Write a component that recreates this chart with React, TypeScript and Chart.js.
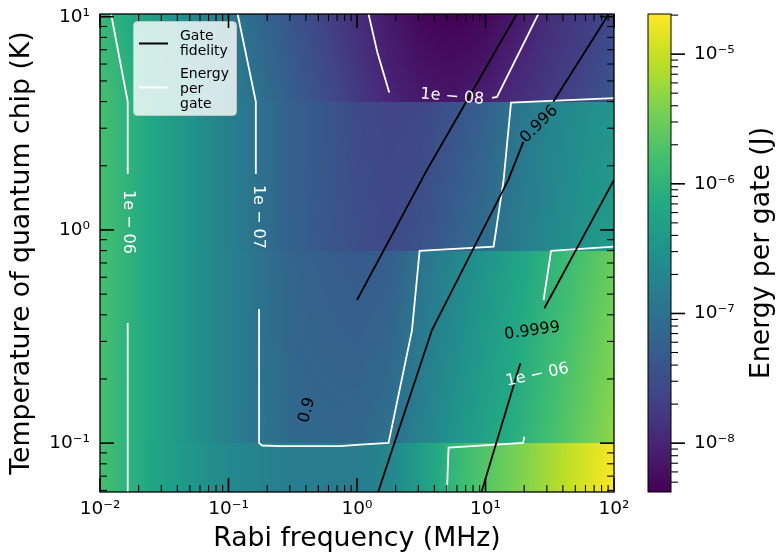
import React, { useEffect, useRef } from 'react';
import { Chart, registerables } from 'chart.js';

Chart.register(...registerables);

const FONT = "'DejaVu Sans', 'Liberation Sans', sans-serif";

// ---- axis ranges and ticks ----
const rabiRange = [0.01, 100];
const tempRange = [0.059, 10.3];
const energyRange = [4.2e-9, 2.04e-5];
const rabiTicks = [0.01, 0.1, 1, 10, 100];
const tempTicks = [0.1, 1, 10];
const energyTicks = [1e-8, 1e-7, 1e-6, 1e-5];

// ---- energy-per-gate map (J), read at band edges of each cooling stage ----
const rabiGrid = [0.01, 0.0316, 0.1, 0.316, 1, 1.78, 3.16, 5.62, 10, 17.8, 31.6, 56.2, 100];
const stageEdgesK = [0.1, 0.8, 4];
const energyStage1Low = [1.62e-6, 5.0e-7, 2.2e-7, 1.51e-7, 1.41e-7, 2.0e-7, 4.5e-7, 1.12e-6, 2.1e-6, 3.7e-6, 6.6e-6, 1.18e-5, 2.04e-5];
const energyStage1High = [1.62e-6, 5.0e-7, 2.2e-7, 1.51e-7, 1.41e-7, 2.0e-7, 4.5e-7, 1.12e-6, 2.0e-6, 3.5e-6, 6.3e-6, 1.12e-5, 1.9e-5];
const energyStage2Low = [1.62e-6, 5.1e-7, 1.66e-7, 7.1e-8, 7.1e-8, 9.5e-8, 1.78e-7, 3.2e-7, 5.6e-7, 8.9e-7, 1.58e-6, 2.8e-6, 5.0e-6];
const energyStage2High = [1.62e-6, 5.1e-7, 1.66e-7, 6.3e-8, 4.5e-8, 5.0e-8, 1.05e-7, 1.82e-7, 3.2e-7, 5.6e-7, 9.8e-7, 1.66e-6, 2.8e-6];
const energyStage3Low = [1.62e-6, 5.1e-7, 1.62e-7, 5.6e-8, 3.2e-8, 2.8e-8, 3.5e-8, 5.6e-8, 8.9e-8, 1.41e-7, 2.2e-7, 3.2e-7, 4.5e-7];
const energyStage3High = [1.62e-6, 5.1e-7, 1.62e-7, 5.6e-8, 2.8e-8, 2.4e-8, 2.5e-8, 3.5e-8, 5.6e-8, 1.12e-7, 1.78e-7, 2.5e-7, 3.5e-7];
const energyStage4Low = [1.62e-6, 5.1e-7, 1.62e-7, 5.2e-8, 1.78e-8, 1.0e-8, 7.6e-9, 7.1e-9, 8.7e-9, 1.26e-8, 1.78e-8, 2.5e-8, 4.0e-8];
const energyStage4High = [1.2e-6, 3.9e-7, 1.23e-7, 3.8e-8, 1.26e-8, 7.4e-9, 5.0e-9, 4.2e-9, 5.0e-9, 7.4e-9, 1.26e-8, 1.78e-8, 2.7e-8];

// ---- contour paths: [Rabi MHz, T K] ----
type Pt = [number, number];
const energy1e6Paths: Pt[][] = [
  [[0.0122, 10.3], [0.01643, 4.0], [0.01643, 1.83]],
  [[0.01643, 0.366], [0.01643, 0.0589]],
  [[5.01, 0.0589], [5.16, 0.0954], [19.6, 0.1003], [20.05, 0.1071]],
  [[28.3, 0.469], [32.4, 0.797], [100, 0.835]],
];
const energy1e7Paths: Pt[][] = [
  [[0.1178, 10.3], [0.1632, 4.0], [0.1632, 1.83]],
  [[0.173, 0.4256], [0.173, 0.1], [0.183, 0.0975], [0.252, 0.0968], [0.74, 0.0968], [1.06, 0.0985], [1.76, 0.1003],
   [2.68, 0.339], [3.07, 0.797], [11.56, 0.835], [13.84, 1.717], [15.8, 3.96], [100, 4.153]],
];
const energy1e8Paths: Pt[][] = [
  [[1.229, 10.3], [1.445, 6.75], [1.782, 4.41]],
  [[11.24, 4.166], [12.29, 4.21], [25.77, 10.3]],
];
const fidelityPaths: Pt[][] = [
  [[1.0, 0.469], [3.503, 1.912], [17.5, 10.3]],
  [[1.46, 0.0589], [3.83, 0.3393], [15.05, 1.717], [19.7, 2.589]],
  [[33.7, 3.99], [91, 10.3]],
  [[9.3, 0.0589], [18.66, 0.2367]],
  [[28.7, 0.429], [100, 1.717]],
];

// ---- inline contour labels ----
const labelText = ['1e − 06', '1e − 07', '1e − 08', '1e − 06', '0.996', '0.9999', '0.9'];
const labelRabi = [0.01667, 0.1715, 5.51, 25.3, 26.2, 23.1, 0.409];
const labelTemp = [1.09, 1.151, 4.21, 0.2087, 3.128, 0.3357, 0.1429];
const labelAngle = [90, 90, 5, -12, -45, -8, -75];
const labelIsEnergy = [true, true, true, true, false, false, false];

const VIRIDIS = ['#440154', '#482475', '#414487', '#355f8d', '#2a788e', '#21918c', '#22a884', '#44bf70', '#7ad151', '#bddf26', '#fde725']
  .map((h) => [parseInt(h.slice(1, 3), 16), parseInt(h.slice(3, 5), 16), parseInt(h.slice(5, 7), 16)]);

function viridis(t: number): number[] {
  const c = Math.min(1, Math.max(0, t)) * (VIRIDIS.length - 1);
  const i = Math.min(VIRIDIS.length - 2, Math.floor(c));
  const f = c - i;
  return [0, 1, 2].map((k) => Math.round(VIRIDIS[i][k] + (VIRIDIS[i + 1][k] - VIRIDIS[i][k]) * f));
}
const lEmin = Math.log10(energyRange[0]);
const lEmax = Math.log10(energyRange[1]);
const energyColor = (logE: number) => viridis((logE - lEmin) / (lEmax - lEmin));

const SUP: Record<string, string> = { '-': '⁻', '0': '⁰', '1': '¹', '2': '²', '3': '³', '4': '⁴', '5': '⁵', '6': '⁶', '7': '⁷', '8': '⁸', '9': '⁹' };
const powLabel = (v: number) => '10' + String(Math.round(Math.log10(v))).split('').map((c) => SUP[c]).join('');

function minorValues(min: number, max: number) {
  const out: number[] = [];
  for (let d = Math.floor(Math.log10(min)); d <= Math.ceil(Math.log10(max)); d++) {
    for (let k = 2; k <= 9; k++) {
      const v = k * Math.pow(10, d);
      if (v >= min && v <= max) out.push(v);
    }
  }
  return out;
}

const stagesLow = [energyStage1Low, energyStage2Low, energyStage3Low, energyStage4Low].map((r) => r.map(Math.log10));
const stagesHigh = [energyStage1High, energyStage2High, energyStage3High, energyStage4High].map((r) => r.map(Math.log10));

const heatmapPlugin = {
  id: 'heatmap',
  beforeDatasetsDraw(chart: any) {
    const { ctx, chartArea: a, scales } = chart;
    const xs = scales.x, ys = scales.y;
    const w = Math.round(a.right - a.left), h = Math.round(a.bottom - a.top);
    const off = document.createElement('canvas');
    off.width = w; off.height = h;
    const octx = off.getContext('2d')!;
    const img = octx.createImageData(w, h);
    const lg = rabiGrid.map(Math.log10);
    const colK: number[] = [], colU: number[] = [];
    for (let i = 0; i < w; i++) {
      const lx = Math.log10(xs.getValueForPixel(a.left + i + 0.5));
      let k = 0;
      while (k < lg.length - 2 && lx > lg[k + 1]) k++;
      colK.push(k);
      colU.push(Math.min(1, Math.max(0, (lx - lg[k]) / (lg[k + 1] - lg[k]))));
    }
    const edges = [tempRange[0], ...stageEdgesK, tempRange[1]].map(Math.log10);
    for (let j = 0; j < h; j++) {
      const lt = Math.log10(ys.getValueForPixel(a.top + j + 0.5));
      let b = 0;
      while (b < stageEdgesK.length && lt >= edges[b + 1]) b++;
      const f = Math.min(1, Math.max(0, (lt - edges[b]) / (edges[b + 1] - edges[b])));
      const lo = stagesLow[b], hi = stagesHigh[b];
      for (let i = 0; i < w; i++) {
        const k = colK[i], u = colU[i];
        const eLo = lo[k] + (lo[k + 1] - lo[k]) * u;
        const eHi = hi[k] + (hi[k + 1] - hi[k]) * u;
        const c = energyColor(eLo + (eHi - eLo) * f);
        const p = (j * w + i) * 4;
        img.data[p] = c[0]; img.data[p + 1] = c[1]; img.data[p + 2] = c[2]; img.data[p + 3] = 255;
      }
    }
    octx.putImageData(img, 0, 0);
    ctx.drawImage(off, a.left, a.top);
  },
};

const decorPlugin = {
  id: 'decor',
  afterDatasetsDraw(chart: any) {
    const { ctx, chartArea: a, scales } = chart;
    const xs = scales.x, ys = scales.y;
    ctx.save();
    ctx.beginPath();
    ctx.rect(a.left, a.top, a.right - a.left, a.bottom - a.top);
    ctx.clip();
    ctx.font = `16px ${FONT}`;
    ctx.textAlign = 'center';
    ctx.textBaseline = 'middle';
    labelText.forEach((t, i) => {
      ctx.save();
      ctx.translate(xs.getPixelForValue(labelRabi[i]), ys.getPixelForValue(labelTemp[i]));
      ctx.rotate((labelAngle[i] * Math.PI) / 180);
      ctx.fillStyle = labelIsEnergy[i] ? '#ffffff' : '#000000';
      ctx.fillText(t, 0, 0);
      ctx.restore();
    });
    ctx.restore();

    // legend
    const lx = a.left + 33.5, ly = a.top + 7.5, lw = 103, lh = 94;
    ctx.save();
    ctx.beginPath();
    (ctx as any).roundRect(lx, ly, lw, lh, 4);
    ctx.fillStyle = 'rgba(255,255,255,0.8)';
    ctx.fill();
    ctx.strokeStyle = 'rgba(204,204,204,0.8)';
    ctx.lineWidth = 1;
    ctx.stroke();
    ctx.lineWidth = 2;
    ctx.strokeStyle = '#000';
    ctx.beginPath(); ctx.moveTo(lx + 5.5, ly + 22); ctx.lineTo(lx + 34.5, ly + 22); ctx.stroke();
    ctx.strokeStyle = '#fff';
    ctx.beginPath(); ctx.moveTo(lx + 5.5, ly + 66); ctx.lineTo(lx + 34.5, ly + 66); ctx.stroke();
    ctx.fillStyle = '#000';
    ctx.font = `14px ${FONT}`;
    ctx.textAlign = 'left';
    ctx.textBaseline = 'alphabetic';
    const tx = lx + 46.5;
    [['Gate', 18], ['fidelity', 33.5], ['Energy', 56], ['per', 71], ['gate', 86]].forEach(([s, dy]) => {
      ctx.fillText(s as string, tx, ly + (dy as number));
    });
    ctx.restore();
  },
  afterDraw(chart: any) {
    const { ctx, chartArea: a, scales } = chart;
    const xs = scales.x, ys = scales.y, cb = scales.cb;
    const MAJ = 14, MIN = 7;
    ctx.save();
    ctx.strokeStyle = '#000';
    const seg = (x1: number, y1: number, x2: number, y2: number, w: number) => {
      ctx.lineWidth = w;
      ctx.beginPath(); ctx.moveTo(x1, y1); ctx.lineTo(x2, y2); ctx.stroke();
    };
    const xTick = (v: number, L: number, w: number) => {
      const p = xs.getPixelForValue(v);
      seg(p, a.bottom, p, a.bottom - L, w); seg(p, a.top, p, a.top + L, w);
    };
    const yTick = (v: number, L: number, w: number) => {
      const p = ys.getPixelForValue(v);
      seg(a.left, p, a.left + L, p, w); seg(a.right, p, a.right - L, p, w);
    };
    rabiTicks.forEach((v) => xTick(v, MAJ, 1.6));
    minorValues(rabiRange[0], rabiRange[1]).forEach((v) => xTick(v, MIN, 1.1));
    tempTicks.forEach((v) => yTick(v, MAJ, 1.6));
    minorValues(tempRange[0], tempRange[1]).forEach((v) => yTick(v, MIN, 1.1));
    ctx.lineWidth = 1.3;
    ctx.strokeRect(a.left, a.top, a.right - a.left, a.bottom - a.top);

    // colour bar
    const c0 = cb.left + 34, c1 = cb.left + 57;
    for (let py = Math.floor(cb.top); py < Math.ceil(cb.bottom); py++) {
      const c = energyColor(Math.log10(cb.getValueForPixel(py + 0.5)));
      ctx.fillStyle = `rgb(${c[0]},${c[1]},${c[2]})`;
      ctx.fillRect(c0, py, c1 - c0, 1);
    }
    ctx.lineWidth = 1;
    ctx.strokeRect(c0, cb.top, c1 - c0, cb.bottom - cb.top);
    energyTicks.forEach((v) => { const p = cb.getPixelForValue(v); seg(c1, p, c1 + MAJ, p, 1.6); });
    minorValues(energyRange[0], energyRange[1]).forEach((v) => { const p = cb.getPixelForValue(v); seg(c1, p, c1 + MIN, p, 1.1); });
    ctx.translate(cb.right - 13.5, (cb.top + cb.bottom) / 2);
    ctx.rotate(-Math.PI / 2);
    ctx.fillStyle = '#000';
    ctx.font = `26.7px ${FONT}`;
    ctx.textAlign = 'center';
    ctx.textBaseline = 'middle';
    ctx.fillText('Energy per gate (J)', 0, 0);
    ctx.restore();
  },
};

function pathDatasets(paths: Pt[][], color: string) {
  return paths.map((p) => ({
    data: p.map(([x, y]) => ({ x, y })),
    showLine: true,
    borderColor: color,
    backgroundColor: color,
    borderWidth: 1.8,
    pointRadius: 0,
    fill: false,
    tension: 0,
  }));
}

export default function App() {
  const ref = useRef<HTMLCanvasElement>(null);
  useEffect(() => {
    document.body.style.margin = '0';
    Chart.defaults.font.family = FONT;
    const tickFont = { family: FONT, size: 18.5 };
    const titleFont = { family: FONT, size: 26.7 };
    const chart = new Chart(ref.current!, {
      type: 'scatter',
      data: {
        datasets: [
          ...pathDatasets(fidelityPaths, '#000000'),
          ...pathDatasets(energy1e6Paths, '#ffffff'),
          ...pathDatasets(energy1e7Paths, '#ffffff'),
          ...pathDatasets(energy1e8Paths, '#ffffff'),
        ] as any,
      },
      options: {
        responsive: false,
        animation: false,
        layout: { autoPadding: false, padding: { left: 0, right: 0, top: 14, bottom: 0 } },
        plugins: { legend: { display: false }, tooltip: { enabled: false } },
        scales: {
          x: {
            type: 'logarithmic',
            position: 'bottom',
            min: rabiRange[0],
            max: rabiRange[1],
            afterFit: (s: any) => { s.height = 65; },
            afterBuildTicks: (s: any) => { s.ticks = rabiTicks.map((value) => ({ value })); },
            ticks: { callback: (v: any) => powLabel(Number(v)), font: tickFont, color: '#000', padding: 0, autoSkip: false, maxRotation: 0 },
            grid: { display: false, drawTicks: true, tickLength: 6 },
            border: { display: false },
            title: { display: true, text: 'Rabi frequency (MHz)', font: titleFont, color: '#000', padding: { top: 0, bottom: 2 } },
          },
          y: {
            type: 'logarithmic',
            position: 'left',
            min: tempRange[0],
            max: tempRange[1],
            afterFit: (s: any) => { s.width = 100; },
            afterBuildTicks: (s: any) => { s.ticks = tempTicks.map((value) => ({ value })); },
            ticks: { callback: (v: any) => powLabel(Number(v)), font: tickFont, color: '#000', padding: 0, autoSkip: false },
            grid: { display: false, drawTicks: true, tickLength: 10 },
            border: { display: false },
            title: { display: true, text: 'Temperature of quantum chip (K)', font: titleFont, color: '#000', padding: { top: 6, bottom: 0 } },
          },
          cb: {
            type: 'logarithmic',
            position: 'right',
            min: energyRange[0],
            max: energyRange[1],
            afterFit: (s: any) => { s.width = 162; },
            afterBuildTicks: (s: any) => { s.ticks = energyTicks.map((value) => ({ value })); },
            ticks: { callback: (v: any) => powLabel(Number(v)), font: tickFont, color: '#000', padding: 0, autoSkip: false },
            grid: { display: false, drawTicks: true, tickLength: 80 },
            border: { display: false },
          },
        },
      } as any,
      plugins: [heatmapPlugin, decorPlugin],
    });
    return () => chart.destroy();
  }, []);
  return (
    <div style={{ position: 'absolute', left: 0, top: 0, width: 776, height: 557 }}>
      <canvas ref={ref} width={776} height={557} style={{ width: 776, height: 557 }} />
    </div>
  );
}
